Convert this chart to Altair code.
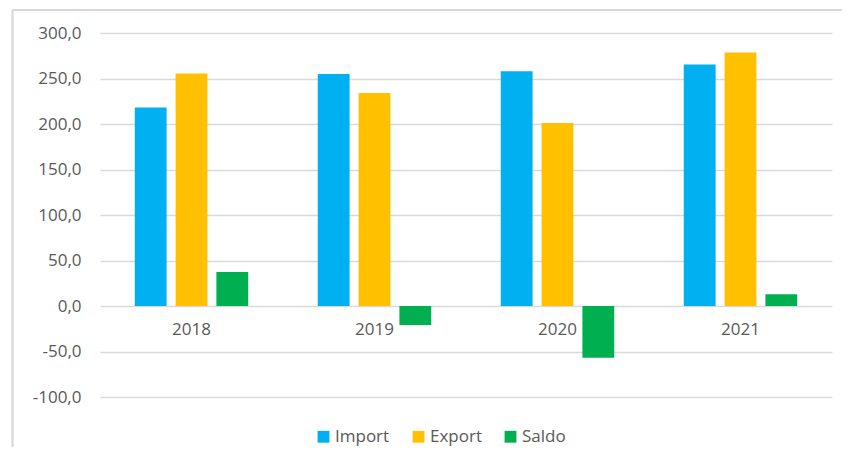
import altair as alt
import pandas as pd

years = ["2018", "2019", "2020", "2021"]
series = ["Import", "Export", "Saldo"]
import_vals = [218.0, 255.0, 258.0, 265.5]
export_vals = [255.5, 234.0, 201.0, 278.5]
saldo_vals = [37.5, -21.0, -57.0, 13.0]
colors = ["#00B0F0", "#FFC000", "#00B050"]
y_ticks = [-100, -50, 0, 50, 100, 150, 200, 250, 300]

rows = []
for i, y in enumerate(years):
    rows.append({"Anno": y, "Serie": "Import", "Valore": import_vals[i]})
    rows.append({"Anno": y, "Serie": "Export", "Valore": export_vals[i]})
    rows.append({"Anno": y, "Serie": "Saldo", "Valore": saldo_vals[i]})
df = pd.DataFrame(rows)
years_df = pd.DataFrame({"Anno": years, "zero": [0] * len(years)})

FONT = "Open Sans"
GRID = "#D9D9D9"
TXT = "#595959"

x_scale = alt.Scale(domain=years, paddingInner=0.38, paddingOuter=0.19)
y_scale = alt.Scale(domain=[-100, 300], nice=False)

bars = alt.Chart(df).mark_bar().encode(
    x=alt.X("Anno:N", scale=x_scale, axis=None),
    xOffset=alt.XOffset("Serie:N", sort=series,
                        scale=alt.Scale(domain=series, paddingInner=0.22, paddingOuter=0)),
    y=alt.Y("Valore:Q", scale=y_scale,
            axis=alt.Axis(values=y_ticks, title=None, grid=True, gridColor=GRID,
                          gridWidth=1.5, domain=False, ticks=False, labelPadding=19,
                          labelFont=FONT, labelFontSize=17, labelColor=TXT,
                          labelExpr="replace(replace(format(datum.value, '.1f'), '.', ','), '\u2212', '-')")),
    color=alt.Color("Serie:N", sort=series,
                    scale=alt.Scale(domain=series, range=colors),
                    legend=alt.Legend(title=None, orient="none", direction="horizontal",
                                      legendX=215, legendY=395, symbolType="square",
                                      symbolSize=140, symbolStrokeWidth=0,
                                      labelFont=FONT, labelFontSize=17, labelColor=TXT,
                                      labelOffset=3, columnPadding=20, padding=0)),
)

labels = alt.Chart(years_df).mark_text(
    font=FONT, fontSize=17, color=TXT, dy=24, baseline="middle"
).encode(
    x=alt.X("Anno:N", scale=x_scale, axis=None),
    y=alt.Y("zero:Q", scale=y_scale),
    text="Anno:N",
)

border_top = alt.Chart(years_df).mark_rule(color=GRID, strokeWidth=1.5).encode(
    x=alt.value(-88), x2=alt.value(760), y=alt.value(-23)
)
border_left = alt.Chart(years_df).mark_rule(color=GRID, strokeWidth=1.5).encode(
    x=alt.value(-87.5), y=alt.value(-23), y2=alt.value(440)
)

chart = alt.layer(border_top, border_left, bars, labels).properties(
    width=732, height=364,
    autosize=alt.AutoSizeParams(type="none"),
    padding={"left": 92, "top": 25, "right": 10, "bottom": 50},
).configure_view(stroke=None)

chart.save("out.html", embed_options={"renderer": "svg", "actions": False})
